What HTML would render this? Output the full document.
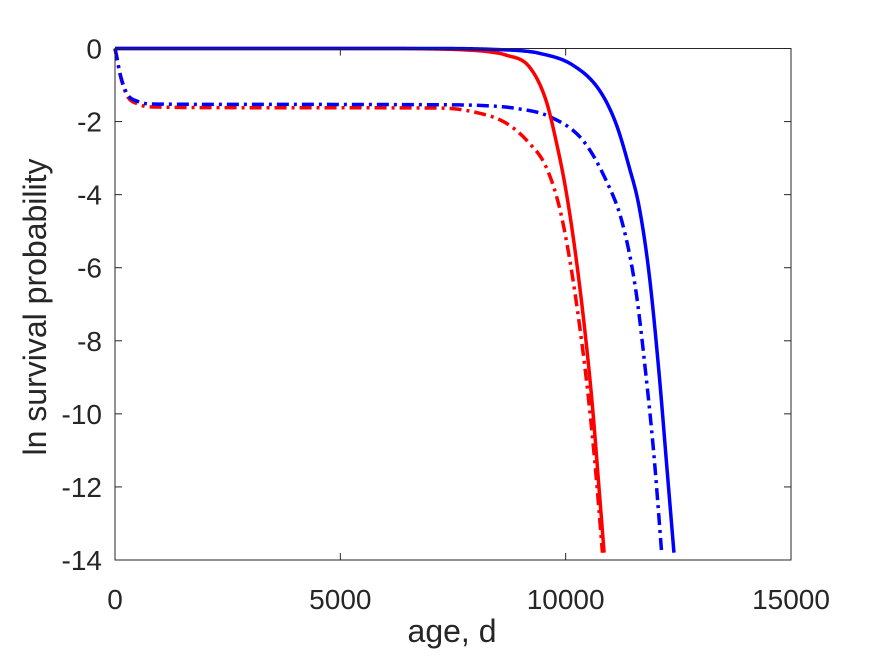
<!DOCTYPE html>
<html><head><meta charset="utf-8"><style>
body{margin:0;background:#fff;}
svg text{font-family:"Liberation Sans",Arial,sans-serif;fill:#262626;}
</style></head><body>
<svg id="chart" width="875" height="656" xmlns="http://www.w3.org/2000/svg">
<rect width="875" height="656" fill="#fff"/>
<g id="curves"></g>
<g id="axes"></g>
</svg>
<script>
const xTicks=[0,5000,10000,15000];
const yTicks=[0,-2,-4,-6,-8,-10,-12,-14];
const blueSolidT=[0,7198,8000,8500,9000,9413,10151,10742,11112,11406,11628,11849,12071,12255,12403];
const blueSolidV=[0,0,-0.01,-0.03,-0.06,-0.13,-0.45,-1.13,-2.04,-3.23,-4.32,-6.14,-8.87,-11.6,-13.8];
const redSolidT=[0,6000,7000,7800,8300,8675,9192,9561,9782,10004,10226,10447,10594,10742,10853];
const redSolidV=[0,0,-0.01,-0.04,-0.09,-0.18,-0.5,-1.41,-2.5,-3.87,-5.69,-7.96,-9.79,-12.06,-13.8];
const blueDashT=[0,50,110,260,510,840,3000,7198,8300,8900,9634,10372,10889,11258,11554,11775,11960,12130];
const blueDashV=[0,-0.3,-0.68,-1.22,-1.45,-1.52,-1.53,-1.54,-1.57,-1.64,-1.86,-2.5,-3.59,-4.78,-6.6,-8.87,-11.15,-13.8];
const redDashT=[0,50,110,260,510,840,3000,7198,7936,8675,9192,9561,9856,10078,10299,10484,10668,10816];
const redDashV=[0,-0.3,-0.7,-1.27,-1.52,-1.6,-1.62,-1.63,-1.73,-2.04,-2.59,-3.23,-4.32,-5.69,-7.5,-9.33,-11.6,-13.8];

const L=115,R=791,T=48.5,B=560;
const xs=v=>L+(v-0)/15000*(R-L);
const ys=v=>T+(0-v)/14*(B-T);
const NS="http://www.w3.org/2000/svg";
function mk(tag,attrs,parent){const e=document.createElementNS(NS,tag);for(const k in attrs)e.setAttribute(k,attrs[k]);parent.appendChild(e);return e;}
// monotone cubic (Fritsch-Carlson) interpolation, densely sampled
function pathFrom(ts,vs){
  const n=ts.length,d=[],m=new Array(n);
  for(let i=0;i<n-1;i++)d.push((vs[i+1]-vs[i])/(ts[i+1]-ts[i]));
  m[0]=d[0];m[n-1]=d[n-2];
  for(let i=1;i<n-1;i++)m[i]=(d[i-1]*d[i]<=0)?0:(d[i-1]+d[i])/2;
  for(let i=0;i<n-1;i++){
    if(d[i]===0){m[i]=0;m[i+1]=0;continue;}
    const a=m[i]/d[i],b=m[i+1]/d[i],s=a*a+b*b;
    if(s>9){const tau=3/Math.sqrt(s);m[i]=tau*a*d[i];m[i+1]=tau*b*d[i];}
  }
  let out="M"+xs(ts[0])+","+ys(vs[0]);
  for(let i=0;i<n-1;i++){
    const h=ts[i+1]-ts[i];
    for(let k=1;k<=20;k++){
      const u=k/20,h00=2*u*u*u-3*u*u+1,h10=u*u*u-2*u*u+u,h01=-2*u*u*u+3*u*u,h11=u*u*u-u*u;
      const t=ts[i]+u*h,v=h00*vs[i]+h10*h*m[i]+h01*vs[i+1]+h11*h*m[i+1];
      out+=" L"+xs(t).toFixed(2)+","+ys(v).toFixed(2);
    }
  }
  return out;
}
const cg=document.getElementById('curves');
const ag=document.getElementById('axes');
const series=[
 [redDashT,redDashV,'#ff0000','12,5,3,5','red-dashdot-curve'],
 [blueDashT,blueDashV,'#0000ff','12,5,3,5','blue-dashdot-curve'],
 [redSolidT,redSolidV,'#ff0000','none','red-solid-curve'],
 [blueSolidT,blueSolidV,'#0000ff','none','blue-solid-curve']
];
series.forEach(s=>{
  const e=mk('path',{d:pathFrom(s[0],s[1]),fill:'none',stroke:s[2],'stroke-width':3.5,'stroke-dasharray':s[3],'stroke-linejoin':'round'},cg);
  
  
});
const box=mk('rect',{x:L,y:T,width:R-L,height:B-T,fill:'none',stroke:'#262626','stroke-width':1},ag);


xTicks.forEach(v=>{
  const x=xs(v);
  mk('line',{x1:x,y1:B,x2:x,y2:B-7,stroke:'#262626'},ag);
  mk('line',{x1:x,y1:T,x2:x,y2:T+7,stroke:'#262626'},ag);
  const t=mk('text',{x:x,y:609,'font-size':28,'text-anchor':'middle'},ag);
  t.textContent=v;
  
  
});
yTicks.forEach(v=>{
  const y=ys(v);
  mk('line',{x1:L,y1:y,x2:L+7,y2:y,stroke:'#262626'},ag);
  mk('line',{x1:R,y1:y,x2:R-7,y2:y,stroke:'#262626'},ag);
  const t=mk('text',{x:102,y:y+10,'font-size':28,'text-anchor':'end'},ag);
  t.textContent=v;
  
  
});
const xl=mk('text',{x:452,y:642,'font-size':32,'text-anchor':'middle'},ag);
xl.textContent='age, d';


const yl=mk('text',{x:0,y:0,'font-size':32,'text-anchor':'middle',transform:'translate(46,307) rotate(-90)'},ag);
yl.textContent='ln survival probability';


</script>
</body></html>
